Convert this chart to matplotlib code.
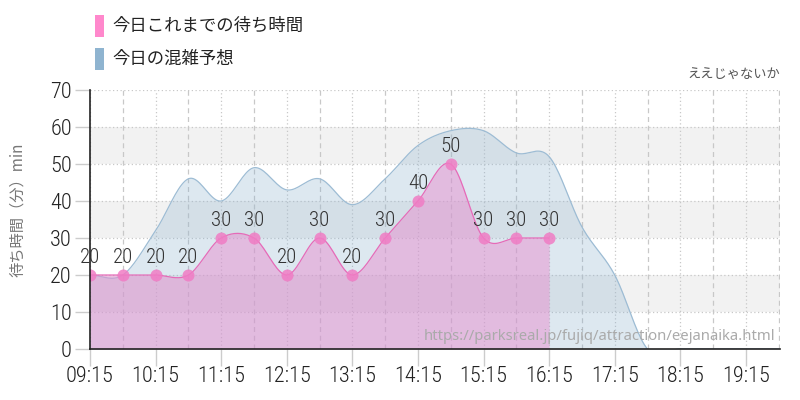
import matplotlib
matplotlib.use("Agg")
import matplotlib.pyplot as plt
import numpy as np
from matplotlib import font_manager as fm
from matplotlib.patches import Rectangle

# ---------------- data ----------------
actual_times = ["09:15", "09:45", "10:15", "10:45", "11:15", "11:45", "12:15", "12:45",
                "13:15", "13:45", "14:15", "14:45", "15:15", "15:45", "16:15"]
actual_wait = [20, 20, 20, 20, 30, 30, 20, 30, 20, 30, 40, 50, 30, 30, 30]

forecast_times = ["09:15", "09:45", "10:15", "10:45", "11:15", "11:45", "12:15", "12:45",
                  "13:15", "13:45", "14:15", "14:45", "15:15", "15:45", "16:15", "16:45",
                  "17:15", "17:45", "18:15", "18:45", "19:15", "19:45"]
forecast_wait = [20, 20, 32, 46, 40, 49, 43, 46, 39, 46, 55, 59, 59, 53, 52, 33,
                 20, 0, 0, 0, 0, 0]

tick_labels = ["09:15", "10:15", "11:15", "12:15", "13:15", "14:15", "15:15",
               "16:15", "17:15", "18:15", "19:15"]
y_ticks = [0, 10, 20, 30, 40, 50, 60, 70]

legend_actual = "今日これまでの待ち時間"
legend_forecast = "今日の混雑予想"
attraction = "ええじゃないか"
y_label = "待ち時間（分）min"
source_url = "https://parksreal.jp/fujiq/attraction/eejanaika.html"

# ---------------- fonts ----------------
names = {f.name for f in fm.fontManager.ttflist}
JP = ["Noto Sans CJK JP", "DejaVu Sans"]
if "Roboto Condensed" in names:
    NUM = dict(family="Roboto Condensed", weight="light")
elif "DejaVu Sans Condensed" in names:
    NUM = dict(family="DejaVu Sans Condensed")
else:
    NUM = dict(family="DejaVu Sans", stretch="condensed")


def to_h(s):
    h, m = s.split(":")
    return int(h) + int(m) / 60.0


def catmull(x, y, n=20):
    x = np.asarray(x, float)
    y = np.asarray(y, float)
    xs, ys = [], []
    for i in range(len(x) - 1):
        y0 = y[i - 1] if i > 0 else y[i]
        y3 = y[i + 2] if i + 2 < len(y) else y[i + 1]
        m1 = (y[i + 1] - y0) / 2.0
        m2 = (y3 - y[i]) / 2.0
        t = np.linspace(0, 1, n, endpoint=False)
        h00 = 2 * t**3 - 3 * t**2 + 1
        h10 = t**3 - 2 * t**2 + t
        h01 = -2 * t**3 + 3 * t**2
        h11 = t**3 - t**2
        xs.append(x[i] + t * (x[i + 1] - x[i]))
        ys.append(h00 * y[i] + h10 * m1 + h01 * y[i + 1] + h11 * m2)
    xs.append([x[-1]])
    ys.append([y[-1]])
    return np.concatenate(xs), np.concatenate(ys)


xa = [to_h(t) for t in actual_times]
xf = [to_h(t) for t in forecast_times]
xt = [to_h(t) for t in tick_labels]

fig = plt.figure(figsize=(8, 4), dpi=100)
ax = fig.add_axes([0.1125, 0.1275, 0.8625, 0.6475])

x0, x1 = to_h("09:15"), to_h("19:45") + 0.02
ax.set_xlim(x0, x1)
ax.set_ylim(0, 70)

# alternating bands
for lo in (10, 30, 50):
    ax.axhspan(lo, lo + 10, color="#f2f2f2", zorder=0, lw=0)

# grid
for y in y_ticks[1:]:
    ax.axhline(y, color="#c8c8c8", lw=0.9, ls=(0, (1, 2)), zorder=1)
for xv in xt:
    ax.axvline(xv, color="#c8c8c8", lw=0.9, ls=(0, (1, 2)), zorder=1)
for xv in xt:
    if xv + 0.5 < x1:
        ax.axvline(xv + 0.5, color="#c8c8c8", lw=0.9, ls=(0, (4, 3)), zorder=1)

# forecast
sx, sy = catmull(xf, forecast_wait)
ax.fill_between(sx, 0, sy, color="#8fb4d0", alpha=0.3, lw=0, zorder=2)
ax.plot(sx, sy, color="#9dbcd4", lw=0.9, zorder=3)

# actual
px, py = catmull(xa, actual_wait)
ax.fill_between(px, 0, py, color="#e78fcf", alpha=0.5, lw=0, zorder=4)
ax.plot(px, py, color="#e66ab8", lw=0.9, zorder=5)
ax.scatter(xa, actual_wait, s=75, color="#f07cc4", alpha=0.85, lw=0, zorder=6)
for xv, v in zip(xa, actual_wait):
    ax.annotate(str(v), (xv, v), xytext=(0, 8.5), textcoords="offset points",
                ha="center", va="baseline", fontsize=15, color="#333333", zorder=7, **NUM)

# spines / ticks
for s in ("top", "right"):
    ax.spines[s].set_visible(False)
ax.spines["left"].set_color("#222222")
ax.spines["bottom"].set_color("#222222")
ax.spines["left"].set_linewidth(1.2)
ax.spines["bottom"].set_linewidth(1.2)
ax.spines["left"].set_zorder(8)
ax.spines["bottom"].set_zorder(8)

ax.set_yticks(y_ticks)
ax.set_yticklabels([str(v) for v in y_ticks], fontsize=16, color="#222222", **NUM)
ax.set_xticks(xt)
ax.set_xticklabels(tick_labels, fontsize=16, color="#222222", **NUM)
ax.tick_params(axis="y", length=11, color="#cccccc", width=1, pad=2)
ax.tick_params(axis="x", length=12, color="#cccccc", width=1, pad=0)

fig.text(0.022, 0.475, y_label, rotation=90, ha="center", va="center",
         fontsize=11, color="#777777", family=JP)

# legend
fig.patches.append(Rectangle((95 / 800, 1 - 37 / 400), 9 / 800, 22 / 400,
                             transform=fig.transFigure, color="#ff88cc", lw=0))
fig.patches.append(Rectangle((95 / 800, 1 - 70 / 400), 9 / 800, 22 / 400,
                             transform=fig.transFigure, color="#8fb4d0", lw=0))
fig.text(112 / 800, 1 - 26 / 400, legend_actual, fontsize=12.5, color="#222222",
         va="center", ha="left", family=JP)
fig.text(112 / 800, 1 - 59 / 400, legend_forecast, fontsize=12.5, color="#222222",
         va="center", ha="left", family=JP)

fig.text(780 / 800, 1 - 75 / 400, attraction, fontsize=9.5, color="#555555",
         va="center", ha="right", family=JP)
fig.text(775 / 800, 1 - 336 / 400, source_url, fontsize=10.7, color="#aaaaaa",
         va="center", ha="right", family=["Noto Sans", "DejaVu Sans"], zorder=10)

fig.savefig("out.png", dpi=100)
